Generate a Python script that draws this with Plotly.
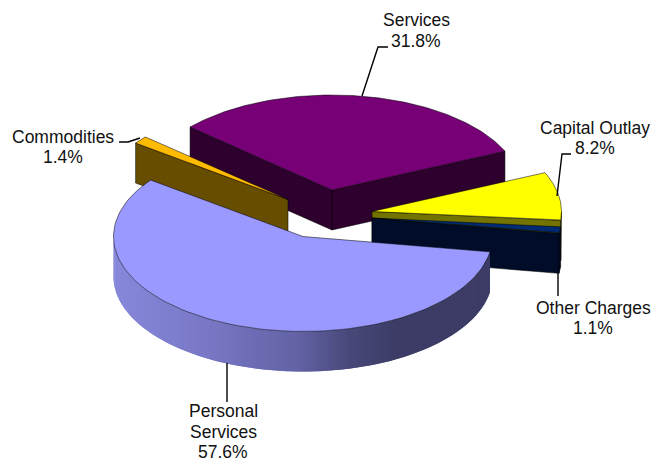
import numpy as np
import plotly.graph_objects as go

# ---- data ----
categories = ["Services", "Capital Outlay", "Other Charges", "Personal Services", "Commodities"]
values = [31.8, 8.2, 1.1, 57.6, 1.4]
label_lines = [["Services"], ["Capital Outlay"], ["Other Charges"], ["Personal", "Services"], ["Commodities"]]

# ---- geometry / style ----
W, H = 663, 462
RX, RY, DEPTH = 189.5, 95.0, 40.0
START = 138.5
apex_x = [332, 372, 372, 303, 288]
apex_y = [190, 211.5, 218, 236.5, 199.5]
top_colors = ["#770077", "#FFFF00", "#002B73", "#9999FF", "#FFBB00"]
side_colors = ["#2D002E", "#737300", "#000C28", "#3C3C66", "#664D00"]
draw_order = [0, 1, 2, 4, 3]
# which radial walls face the viewer: (clockwise end, clockwise start)
wall_end = [True, True, True, False, False]
wall_start = [True, False, False, False, True]
label_x = [416, 595, 593, 223, 63]
label_y = [30.5, 138, 318, 431.5, 147]
LINE_STEP = 20.25
leaders = [
    "M388,47 L378,47 L362,96",
    "M571,154 L562,154 L557,196",
    "M558,296 L558,273",
    "M227,402 L227,363",
    "M119,142 L128,142 L140,138",
]
grad_x = [114, 200, 300, 350, 400, 492]
grad_r = [136, 122, 98, 72, 60, 60]
grad_g = [136, 122, 98, 72, 60, 60]
grad_b = [220, 200, 165, 122, 102, 102]
OUT = "rgba(0,0,0,0.75)"

fig = go.Figure()
spans = np.array(values) / sum(values) * 360
ends = START - np.cumsum(spans)
starts = ends + spans


def rim_pts(cx, cy, t):
    r = np.radians(t)
    return cx + RX * np.cos(r), cy - RY * np.sin(r)


def poly(x, y, fill, line=None, width=0.7, name="", hover=False):
    fig.add_trace(go.Scatter(
        x=list(x), y=list(y), mode="lines", fill="toself", fillcolor=fill,
        line=dict(color=line or fill, width=width), name=name,
        hoverinfo="name" if hover else "skip", showlegend=False))


for i in draw_order:
    cx, cy = apex_x[i], apex_y[i]
    a, b = ends[i], starts[i]
    side = side_colors[i]
    # radial side walls that face the viewer
    for t, show in ((a, wall_end[i]), (b, wall_start[i])):
        if show:
            px, py = rim_pts(cx, cy, t)
            poly([cx, px, px, cx, cx], [cy, py, py + DEPTH, cy + DEPTH, cy], side, OUT)
    # outer rim, front half only
    lo, hi = max(a, -180.0), min(b, 0.0)
    if i == 3:
        lo, hi = -180.0, b
        for s in np.arange(lo, hi, 1.0):
            # every strip overlaps the next one, which paints over it, so no seams show
            ts = np.array([s, min(s + 1.0, hi), min(s + 2.0, hi)])
            if s > 0 or ts[0] >= hi:
                continue
            px, py = rim_pts(cx, cy, ts)
            mid = px[:2].mean()
            col = "rgb(%d,%d,%d)" % (np.interp(mid, grad_x, grad_r),
                                    np.interp(mid, grad_x, grad_g),
                                    np.interp(mid, grad_x, grad_b))
            poly(np.r_[px, px[::-1], px[0]], np.r_[py, py[::-1] + DEPTH, py[0]], col, width=0)
    elif hi > lo:
        ts = np.linspace(lo, hi, 12)
        px, py = rim_pts(cx, cy, ts)
        poly(np.r_[px, px[::-1], px[0]], np.r_[py, py[::-1] + DEPTH, py[0]], side, OUT)
    # top face
    ts = np.linspace(a, b, 120)
    px, py = rim_pts(cx, cy, ts)
    poly(np.r_[cx, px, cx], np.r_[cy, py, cy], top_colors[i], OUT,
         name=f"{categories[i]}: {values[i]}%", hover=True)

shapes = [dict(type="path", path=p, line=dict(color="black", width=1.4), xref="x", yref="y", layer="above")
          for p in leaders]
annotations = []
for i in range(len(categories)):
    rows = label_lines[i] + [f"{values[i]:.1f}%"]
    for k, row in enumerate(rows):
        annotations.append(dict(
            x=label_x[i], y=label_y[i] + (k - (len(rows) - 1) / 2) * LINE_STEP,
            xref="x", yref="y", showarrow=False, xanchor="center", yanchor="middle", text=row,
            font=dict(family="Liberation Sans, Arial, sans-serif", size=17.5, color="#111111")))

fig.update_layout(
    width=W, height=H, margin=dict(l=0, r=0, t=0, b=0), autosize=False,
    paper_bgcolor="white", plot_bgcolor="white", showlegend=False,
    xaxis=dict(visible=False, range=[0, W], fixedrange=True),
    yaxis=dict(visible=False, range=[H, 0], fixedrange=True),
    shapes=shapes, annotations=annotations,
)
fig.write_html("out.html", config={"displayModeBar": False},
               post_script="document.body.style.margin='0';document.body.style.overflow='hidden';")
